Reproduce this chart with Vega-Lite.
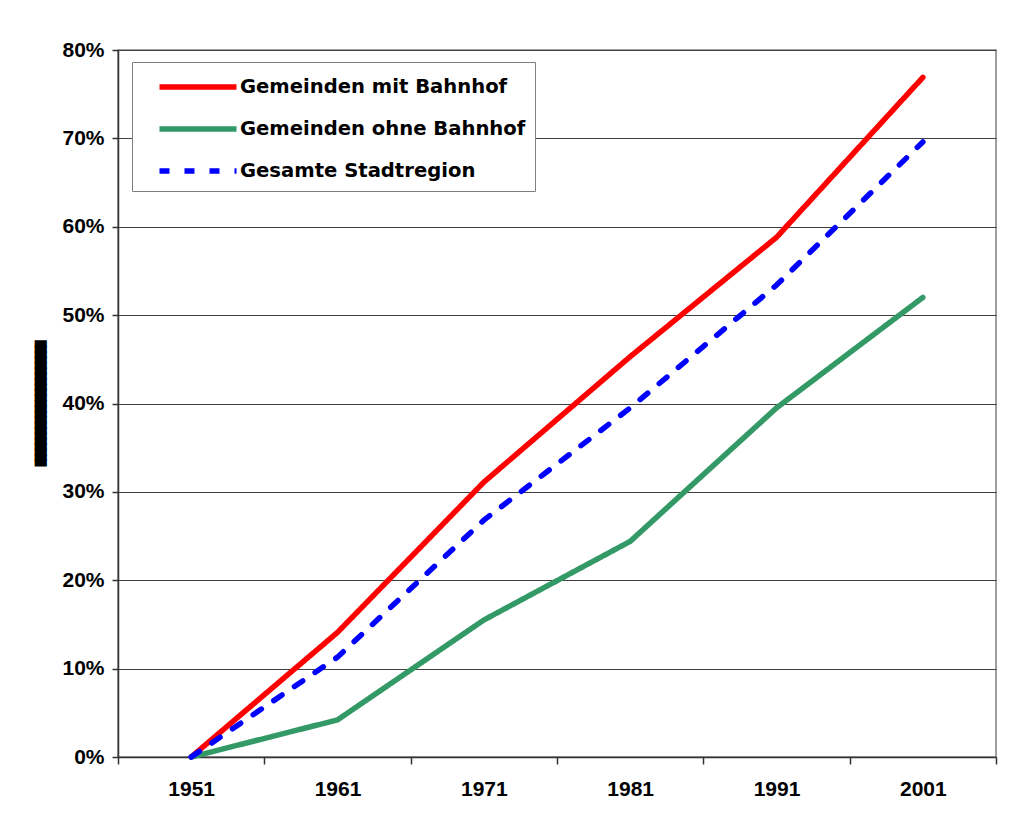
{
  "$schema": "https://vega.github.io/schema/vega-lite/v6.json",
  "autosize": "none",
  "width": 878,
  "height": 707,
  "padding": {"left": 118, "top": 50, "right": 21, "bottom": 66},
  "background": "white",
  "config": {
    "view": {"stroke": "#808080", "strokeWidth": 1.5},
    "font": "Liberation Sans",
    "style": {"guide-title": {"stroke": "black", "strokeWidth": 1.5}}
  },
  "data": {
    "values": [
      {"year": "1951", "series": "Gemeinden mit Bahnhof", "value": 0.0},
      {"year": "1961", "series": "Gemeinden mit Bahnhof", "value": 0.141},
      {"year": "1971", "series": "Gemeinden mit Bahnhof", "value": 0.311},
      {"year": "1981", "series": "Gemeinden mit Bahnhof", "value": 0.453},
      {"year": "1991", "series": "Gemeinden mit Bahnhof", "value": 0.588},
      {"year": "2001", "series": "Gemeinden mit Bahnhof", "value": 0.769},
      {"year": "1951", "series": "Gemeinden ohne Bahnhof", "value": 0.0},
      {"year": "1961", "series": "Gemeinden ohne Bahnhof", "value": 0.042},
      {"year": "1971", "series": "Gemeinden ohne Bahnhof", "value": 0.155},
      {"year": "1981", "series": "Gemeinden ohne Bahnhof", "value": 0.244},
      {"year": "1991", "series": "Gemeinden ohne Bahnhof", "value": 0.395},
      {"year": "2001", "series": "Gemeinden ohne Bahnhof", "value": 0.520},
      {"year": "1951", "series": "Gesamte Stadtregion", "value": 0.0},
      {"year": "1961", "series": "Gesamte Stadtregion", "value": 0.113},
      {"year": "1971", "series": "Gesamte Stadtregion", "value": 0.268},
      {"year": "1981", "series": "Gesamte Stadtregion", "value": 0.395},
      {"year": "1991", "series": "Gesamte Stadtregion", "value": 0.534},
      {"year": "2001", "series": "Gesamte Stadtregion", "value": 0.696}
    ]
  },
  "mark": {"type": "line", "strokeCap": "round", "strokeJoin": "miter"},
  "encoding": {
    "x": {
      "field": "year", "type": "ordinal",
      "scale": {"type": "band", "paddingInner": 0, "paddingOuter": 0},
      "axis": {
        "title": null, "labelAngle": 0, "tickBand": "extent",
        "labelFont": "Liberation Sans", "labelFontSize": 21, "labelFontWeight": "bold", "labelColor": "black",
        "tickSize": 7, "tickColor": "#333", "tickWidth": 1.5,
        "domainColor": "#333", "domainWidth": 1.5, "labelPadding": 14, "grid": false
      }
    },
    "y": {
      "field": "value", "type": "quantitative",
      "scale": {"domain": [0, 0.8], "nice": false},
      "axis": {
        "values": [0, 0.1, 0.2, 0.3, 0.4, 0.5, 0.6, 0.7, 0.8],
        "format": ".0%",
        "labelFont": "Liberation Sans", "labelFontSize": 21, "labelFontWeight": "bold", "labelColor": "black",
        "tickSize": 6, "tickColor": "#333", "tickWidth": 1.5, "labelPadding": 8,
        "domainColor": "#333", "domainWidth": 1.5,
        "grid": true, "gridColor": "#404040", "gridWidth": 1.2,
        "title": "███████████████████████",
        "titleFont": "DejaVu Sans Mono", "titleFontSize": 9, "titleFontWeight": "normal", "titleColor": "black",
        "titleAngle": -90, "titleX": -78, "titleY": 353, "titleAlign": "center", "titleBaseline": "middle"
      }
    },
    "color": {
      "field": "series", "type": "nominal",
      "scale": {"domain": ["Gemeinden mit Bahnhof", "Gemeinden ohne Bahnhof", "Gesamte Stadtregion"], "range": ["#FF0000", "#339966", "#0000FF"]},
      "legend": {
        "title": null, "orient": "none", "legendX": 14, "legendY": 12,
        "strokeColor": "#808080", "fillColor": "white", "padding": 9,
        "symbolType": "M -3 0 L 3 0", "symbolSize": 659, "symbolStrokeWidth": 5, "symbolOffset": 41,
        "labelFont": "DejaVu Sans", "labelFontSize": 19.6, "labelFontWeight": "bold", "labelColor": "black",
        "labelOffset": 26, "labelLimit": 600, "rowPadding": 15
      }
    },
    "strokeDash": {
      "field": "series", "type": "nominal",
      "scale": {"domain": ["Gemeinden mit Bahnhof", "Gemeinden ohne Bahnhof", "Gesamte Stadtregion"], "range": [[1, 0], [1, 0], [10, 15]]},
      "legend": null
    },
    "strokeWidth": {
      "field": "series", "type": "nominal",
      "scale": {"domain": ["Gemeinden mit Bahnhof", "Gemeinden ohne Bahnhof", "Gesamte Stadtregion"], "range": [5.5, 5.5, 3.5]},
      "legend": null
    }
  }
}
